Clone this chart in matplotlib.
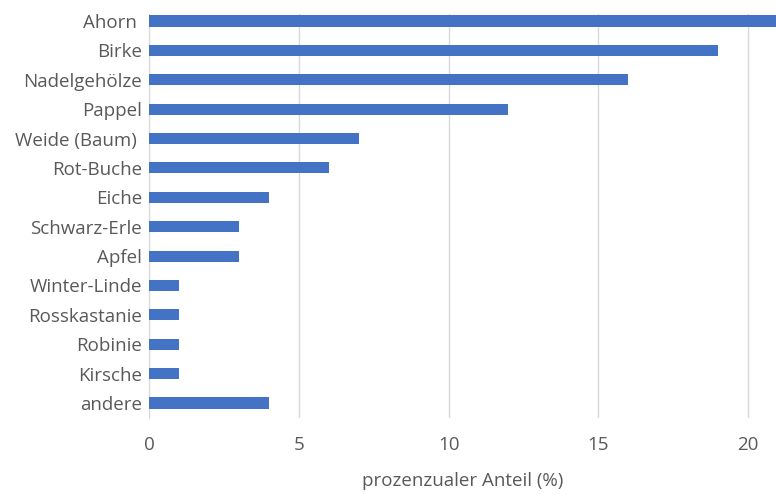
import matplotlib
matplotlib.use("Agg")
import matplotlib.pyplot as plt

# Baumarten und prozentualer Anteil
species = ["Ahorn ", "Birke", "Nadelgehölze", "Pappel", "Weide (Baum) ", "Rot-Buche",
           "Eiche", "Schwarz-Erle", "Apfel", "Winter-Linde", "Rosskastanie",
           "Robinie", "Kirsche", "andere"]
share = [21, 19, 16, 12, 7, 6, 4, 3, 3, 1, 1, 1, 1, 4]
xticks = [0, 5, 10, 15, 20]

plt.rcParams['font.family'] = ['Open Sans', 'DejaVu Sans']

fig = plt.figure(figsize=(7.76, 4.95), dpi=100)
ax = fig.add_axes([0.192, 0.156, 0.808, 0.816])

pos = list(range(len(species)))
ax.barh(pos, share, height=0.38, color="#4472C4", zorder=3)

ax.set_yticks(pos)
ax.set_yticklabels(species)
ax.set_ylim(13.5, -0.24)
ax.set_xlim(0, 20.93)
ax.set_xticks(xticks)

ax.grid(axis="x", color="#D9D9D9", linewidth=1, zorder=0)
for s in ["top", "right", "bottom"]:
    ax.spines[s].set_visible(False)
ax.spines["left"].set_color("#D9D9D9")
ax.tick_params(axis="both", length=0, labelsize=13.5, labelcolor="#595959")
ax.tick_params(axis="y", pad=5)
ax.tick_params(axis="x", pad=13)
ax.set_xlabel("prozenzualer Anteil (%)", fontsize=13.5, color="#595959", labelpad=13)

fig.savefig("out.png", dpi=100)
